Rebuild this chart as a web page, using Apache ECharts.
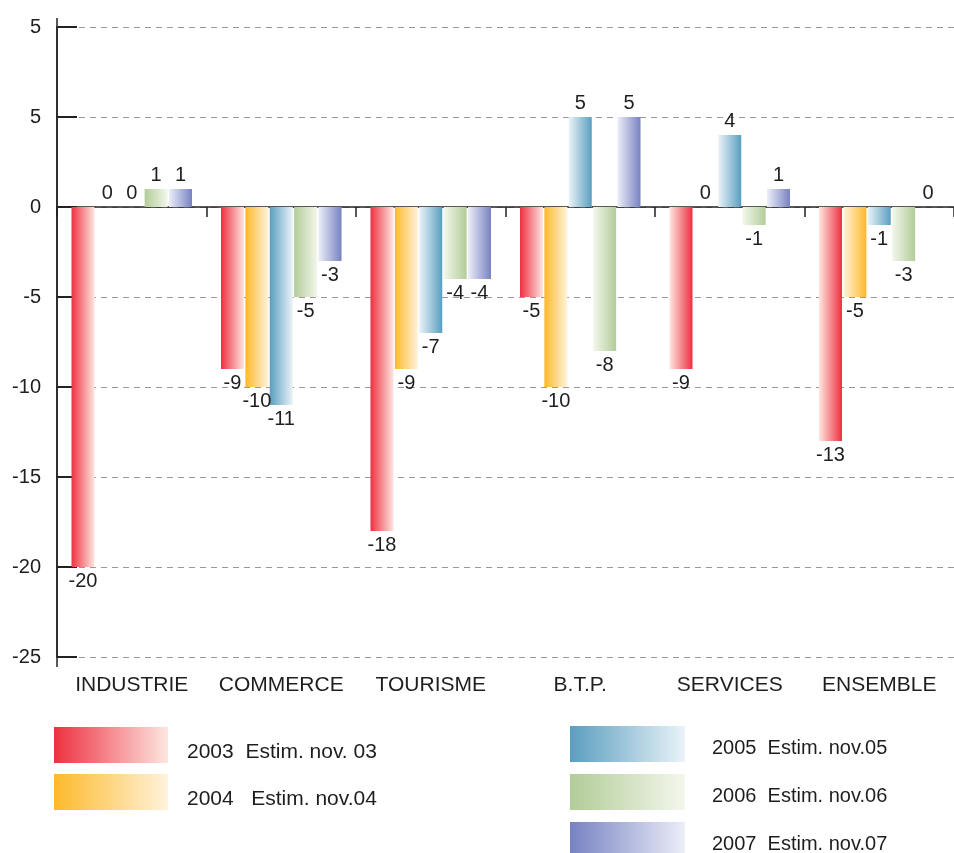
<!DOCTYPE html>
<html>
<head>
<meta charset="utf-8">
<script src="https://cdn.jsdelivr.net/npm/echarts@6/dist/echarts.min.js"></script>
<style>
html,body{margin:0;padding:0;background:#fff;}
#chart{width:954px;height:853px;}
</style>
</head>
<body>
<div id="chart"></div>
<script>
// ---- data ----
var categories = ['INDUSTRIE', 'COMMERCE', 'TOURISME', 'B.T.P.', 'SERVICES', 'ENSEMBLE'];
var seriesNames = ['2003  Estim. nov. 03', '2004   Estim. nov.04', '2005  Estim. nov.05', '2006  Estim. nov.06', '2007  Estim. nov.07'];
var v2003 = [-20, -9, -18, -5, -9, -13];
var v2004 = [0, -10, -9, -10, 0, -5];
var v2005 = [0, -11, -7, 5, 4, -1];
var v2006 = [1, -5, -4, -8, -1, -3];
var v2007 = [1, -3, -4, 5, 1, 0];
var yTickValues = [-25, -20, -15, -10, -5, 0, 5, 10];
var yTickLabels = ['-25', '-20', '-15', '-10', '-5', '0', '5', '5'];

// ---- styles ----
var palette = [
  ['#ee3040', '#fde6e0'],
  ['#fdb92a', '#fff3dc'],
  ['#5a9ec0', '#eaf3f8'],
  ['#b2cc98', '#f3f7ec'],
  ['#7782c2', '#eceef8']
];
// which side of each bar is dark (L = left, R = right)
var darkSide = [
  ['L', 'L', 'L', 'L', 'R', 'R'],
  ['L', 'L', 'L', 'L', 'R', 'R'],
  ['L', 'L', 'R', 'R', 'R', 'R'],
  ['L', 'L', 'R', 'R', 'R', 'R'],
  ['R', 'R', 'R', 'R', 'R', 'R']
];
var allValues = [v2003, v2004, v2005, v2006, v2007];
var FONT = 'Liberation Sans, Arial, sans-serif';

function grad(pair, side) {
  var stops = side === 'L'
    ? [{offset: 0, color: pair[0]}, {offset: 1, color: pair[1]}]
    : [{offset: 0, color: pair[1]}, {offset: 1, color: pair[0]}];
  return new echarts.graphic.LinearGradient(0, 0, 1, 0, stops);
}

var series = allValues.map(function (vals, si) {
  return {
    name: seriesNames[si],
    type: 'bar',
    barWidth: 23,
    barGap: '6%',
    itemStyle: {color: grad(palette[si], 'L')},
    label: {
      show: true,
      fontFamily: FONT,
      fontSize: 20,
      color: '#1e1e1e',
      distance: 4
    },
    data: vals.map(function (v, ci) {
      return {
        value: v,
        itemStyle: {color: grad(palette[si], darkSide[si][ci])},
        label: {position: v < 0 ? 'bottom' : 'top'}
      };
    })
  };
});

function legendTextStyle(size, padTop, padLeft) {
  return {
    padding: [0, 0, 0, padLeft],
    rich: {t: {fontFamily: FONT, fontSize: size, color: '#1e1e1e', padding: [padTop, 0, 0, 0]}}
  };
}

var option = {
  animation: false,
  backgroundColor: '#fff',
  grid: {left: 57, right: -9, top: 27, bottom: 196, containLabel: false},
  legend: [
    {
      data: [seriesNames[0], seriesNames[1]],
      orient: 'vertical', left: 54, top: 727, height: 150, padding: 0,
      itemWidth: 114, itemHeight: 36, itemGap: 11, icon: 'rect',
      formatter: function (n) { return '{t|' + n + '}'; },
      textStyle: legendTextStyle(21, 14, 14),
      selectedMode: false
    },
    {
      data: [seriesNames[2], seriesNames[3], seriesNames[4]],
      orient: 'vertical', left: 570, top: 726, height: 150, padding: 0,
      itemWidth: 115, itemHeight: 36, itemGap: 12, icon: 'rect',
      formatter: function (n) { return '{t|' + n + '}'; },
      textStyle: legendTextStyle(20, 8, 22),
      selectedMode: false
    }
  ],
  xAxis: [
    {
      type: 'category',
      data: categories,
      axisLine: {onZero: true, lineStyle: {color: '#222', width: 1.5}},
      axisTick: {show: true, length: 10, lineStyle: {color: '#222', width: 1.5}},
      axisLabel: {show: false},
      splitLine: {show: false}
    },
    {
      type: 'category',
      data: categories,
      position: 'bottom',
      axisLine: {show: false},
      axisTick: {show: false},
      axisLabel: {show: true, interval: 0, fontFamily: FONT, fontSize: 21, color: '#1e1e1e', margin: 18},
      splitLine: {show: false}
    }
  ],
  yAxis: {
    type: 'value',
    min: -25,
    max: 10,
    interval: 5,
    axisLine: {show: true, lineStyle: {color: '#222', width: 1.5}},
    axisTick: {show: true, inside: true, length: 20, lineStyle: {color: '#222', width: 2}},
    axisLabel: {
      fontFamily: FONT, fontSize: 20, color: '#1e1e1e', margin: 16,
      formatter: function (v) {
        var i = yTickValues.indexOf(v);
        return i >= 0 ? yTickLabels[i] : String(v);
      }
    },
    splitLine: {show: true, lineStyle: {color: '#a39692', width: 1.2, type: [6, 5]}}
  },
  series: series
};

var chart = echarts.init(document.getElementById('chart'), null, {renderer: 'canvas'});
chart.setOption(option);

// extend the vertical axis line slightly past the plot, as in the original
try {
  var rect = chart.getModel().getComponent('grid', 0).coordinateSystem.getRect();
  var yTop = chart.convertToPixel({yAxisIndex: 0}, 10);
  var yBot = chart.convertToPixel({yAxisIndex: 0}, -25);
  chart.setOption({
    graphic: [{
      type: 'line', silent: true, z: 10,
      shape: {x1: rect.x, y1: yTop - 9, x2: rect.x, y2: yBot + 10},
      style: {stroke: '#222', lineWidth: 1.5}
    }]
  });
} catch (e) {}
</script>
</body>
</html>
